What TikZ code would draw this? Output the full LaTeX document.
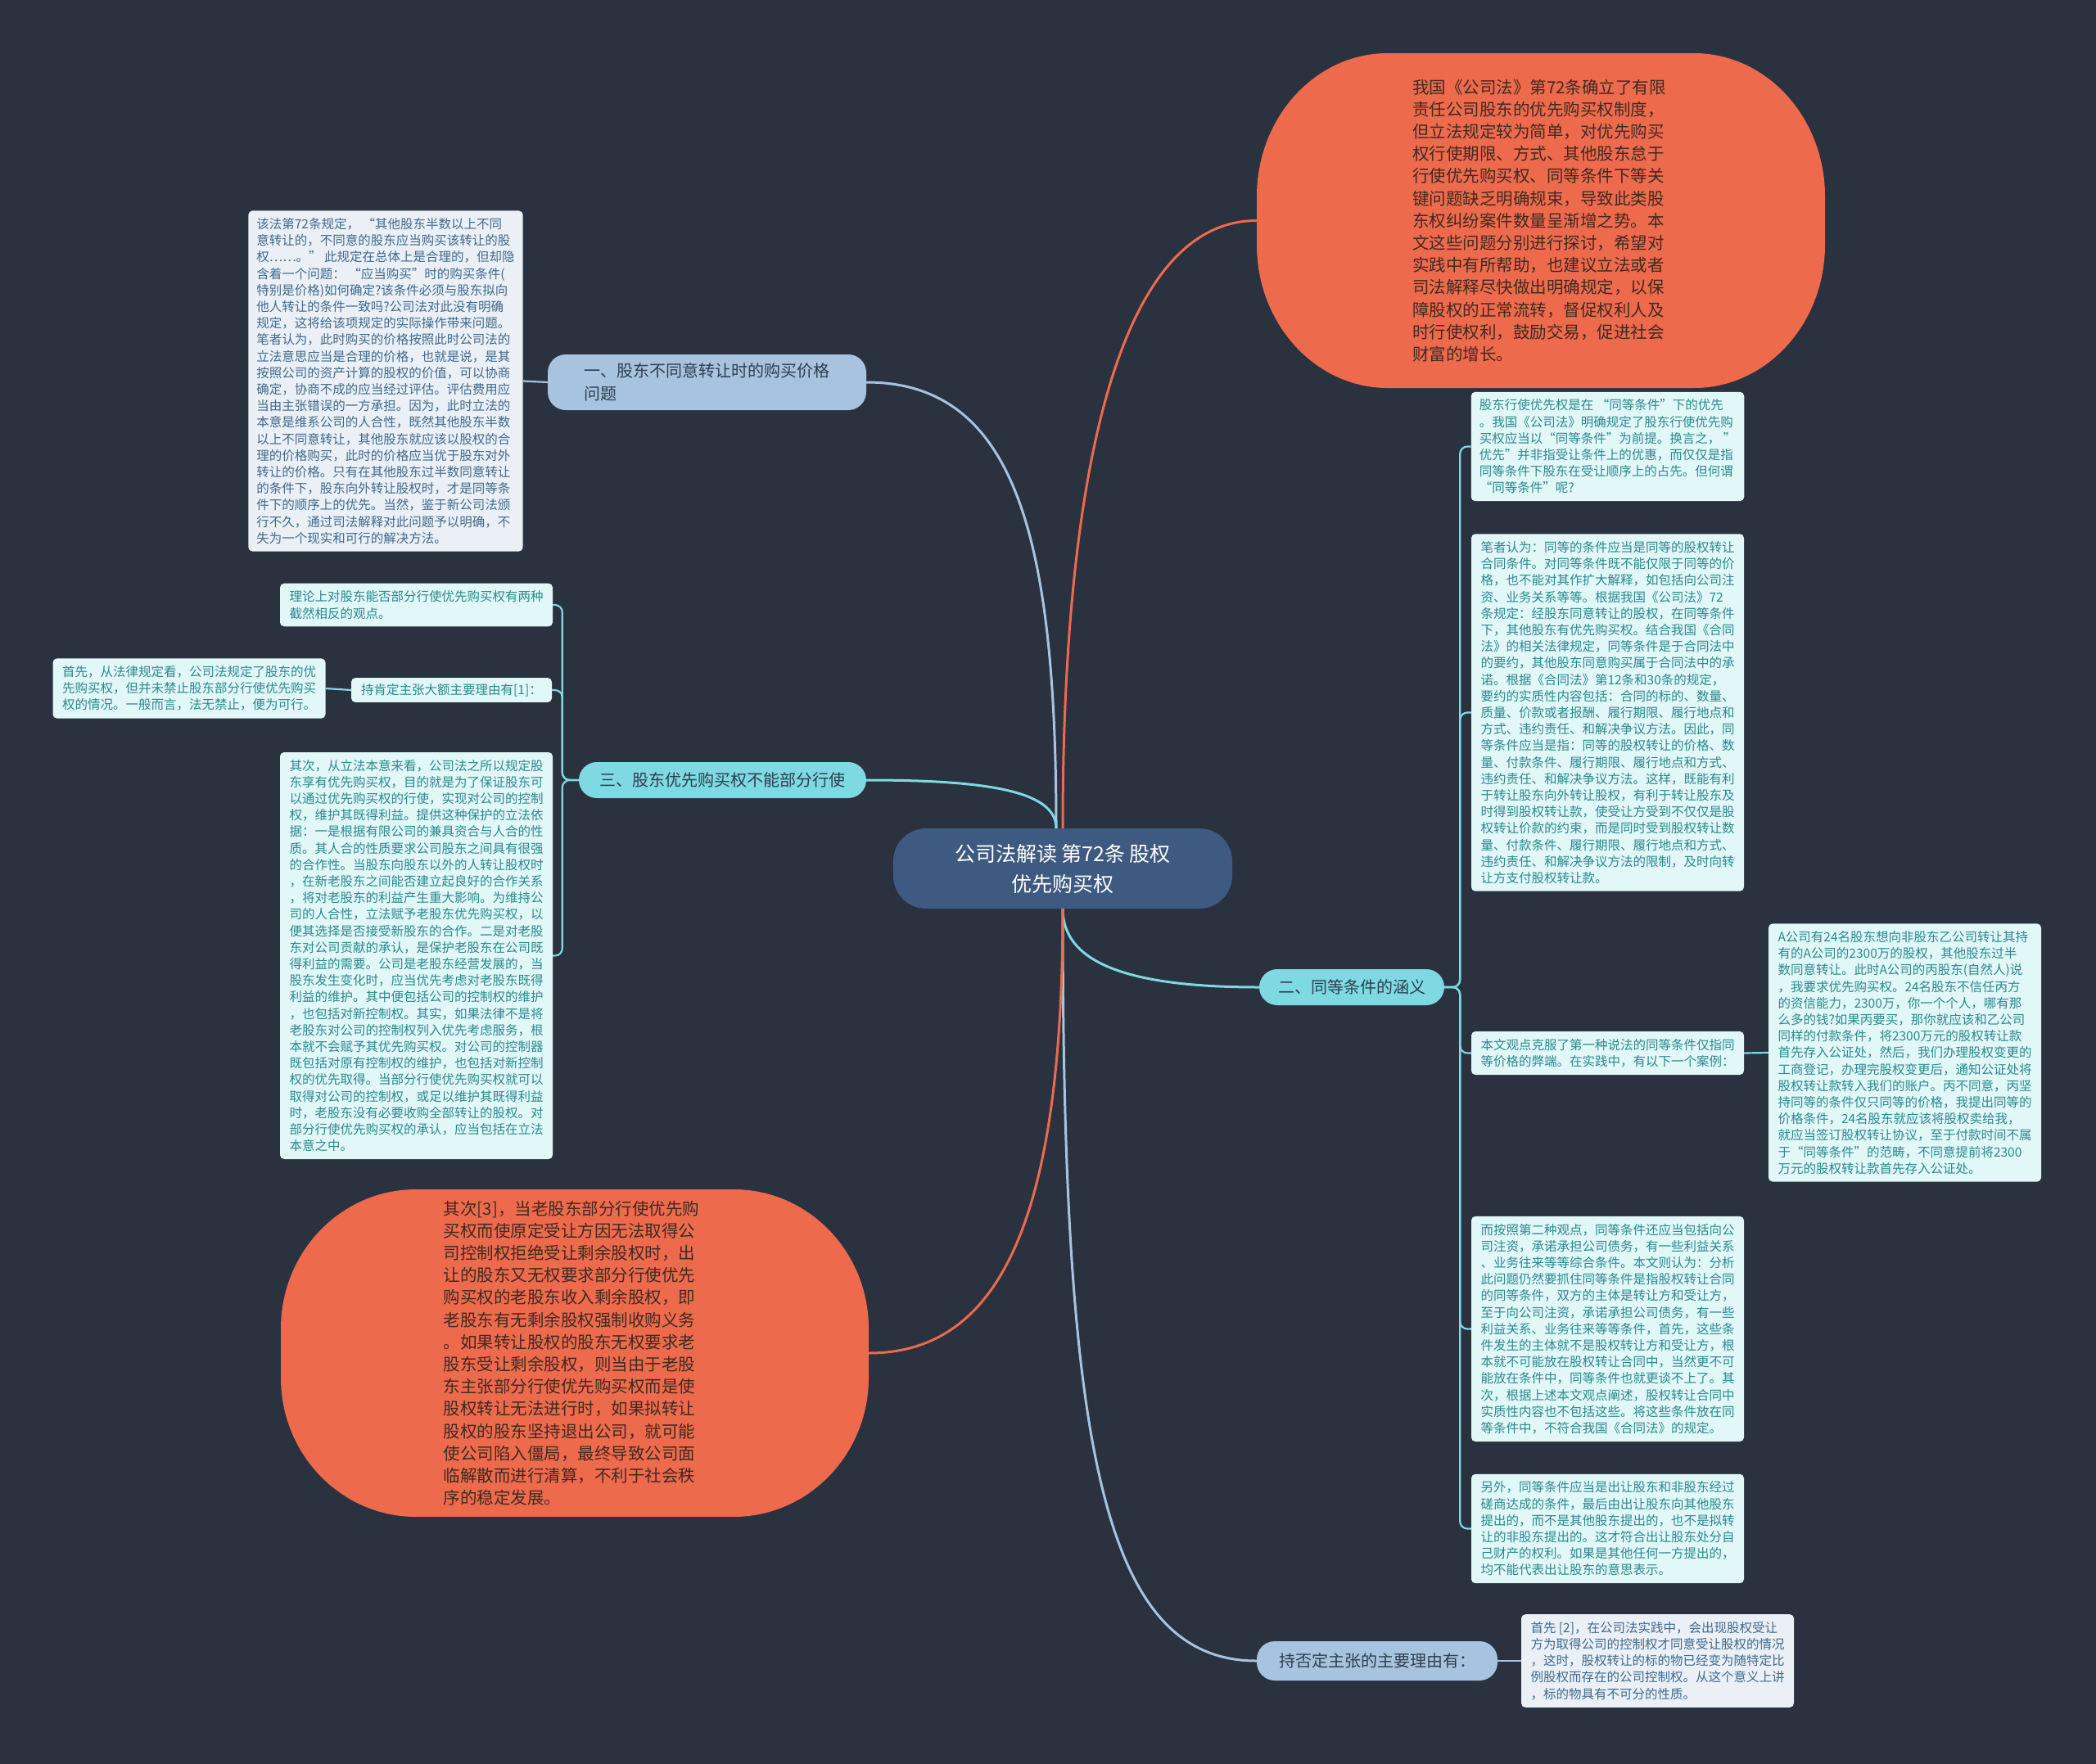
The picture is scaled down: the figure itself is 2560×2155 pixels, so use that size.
\documentclass[tikz,border=0pt]{standalone}
\usepackage{fontspec}
\setmainfont{Noto Sans CJK SC}
\definecolor{bg}{HTML}{2A313F}
\definecolor{orangec}{HTML}{EE6A4C}
\definecolor{orangetxt}{HTML}{3E2A22}
\definecolor{centerc}{HTML}{3E5A80}
\definecolor{steelc}{HTML}{A7C3DF}
\definecolor{cyanc}{HTML}{7ED9E2}
\definecolor{leafcyan}{HTML}{E1F7F8}
\definecolor{leafgrey}{HTML}{EAF0F5}
\definecolor{tealtext}{HTML}{2B898D}
\definecolor{bluetext}{HTML}{41698C}
\definecolor{darktext}{HTML}{2E3E50}
% x1 y1 x2 y2 rx ry
\newcommand{\blobshape}[6]{%
  \fill[orangec] ({#1+#5},#2) -- ({#3-#5},#2)
    arc[start angle=-90,end angle=0,x radius=#5,y radius=#6]
    -- (#3,{#4-#6})
    arc[start angle=0,end angle=90,x radius=#5,y radius=#6]
    -- ({#1+#5},#4)
    arc[start angle=90,end angle=180,x radius=#5,y radius=#6]
    -- (#1,{#2+#6})
    arc[start angle=180,end angle=270,x radius=#5,y radius=#6] -- cycle;}
\begin{document}
\begin{tikzpicture}[x=1pt,y=-1pt,
  leafc/.style={fill=leafcyan,text=tealtext,rounded corners=5pt,align=left,
    font=\fontsize{15.5}{20.2}\selectfont,inner xsep=10pt,inner ysep=9pt,minimum width=333pt},
  leafg/.style={leafc,fill=leafgrey,text=bluetext},
  brnode/.style={rounded corners=22pt,font=\fontsize{20}{28}\selectfont,align=left,
    inner xsep=8pt,inner ysep=4pt,text=darktext},
  otext/.style={text=orangetxt,align=left,font=\fontsize{20.5}{27.2}\selectfont},
  lineo/.style={draw=orangec,line width=3pt},
  lineb/.style={draw=steelc,line width=3pt},
  linec/.style={draw=cyanc,line width=3pt},
  subc/.style={draw=cyanc,line width=2.2pt,rounded corners=9pt},
  subb/.style={draw=steelc,line width=2.2pt}]
\useasboundingbox[fill=bg] (0,0) rectangle (2560,2155);

% orange blobs
\blobshape{1535}{65}{2229}{474}{160}{175}
\blobshape{343}{1453}{1061}{1853}{165}{170}
\coordinate (o1w) at (1535,269.5);
\coordinate (o2e) at (1061,1653);

\node[otext] (o1) at (1880,269.5) {我国《公司法》第72条确立了有限\\
责任公司股东的优先购买权制度，\\
但立法规定较为简单，对优先购买\\
权行使期限、方式、其他股东怠于\\
行使优先购买权、同等条件下等关\\
键问题缺乏明确规束，导致此类股\\
东权纠纷案件数量呈渐增之势。本\\
文这些问题分别进行探讨，希望对\\
实践中有所帮助，也建议立法或者\\
司法解释尽快做出明确规定，以保\\
障股权的正常流转，督促权利人及\\
时行使权利，鼓励交易，促进社会\\
财富的增长。};

\node[otext] (o2) at (698,1653) {其次[3]，当老股东部分行使优先购\\
买权而使原定受让方因无法取得公\\
司控制权拒绝受让剩余股权时，出\\
让的股东又无权要求部分行使优先\\
购买权的老股东收入剩余股权，即\\
老股东有无剩余股权强制收购义务\\
。如果转让股权的股东无权要求老\\
股东受让剩余股权，则当由于老股\\
东主张部分行使优先购买权而是使\\
股权转让无法进行时，如果拟转让\\
股权的股东坚持退出公司，就可能\\
使公司陷入僵局，最终导致公司面\\
临解散而进行清算，不利于社会秩\\
序的稳定发展。};

% center
\node[fill=centerc,text=white,rounded corners=40pt,minimum width=414pt,minimum height=98pt,
  align=center,font=\fontsize{25}{37}\selectfont] (c) at (1298,1061)
  {公司法解读 第72条 股权\\优先购买权};

% branch nodes
\node[brnode,fill=steelc,minimum width=389pt,minimum height=68pt] (one) at (863.5,467)
  {一、股东不同意转让时的购买价格\\问题};
\node[brnode,fill=cyanc,minimum width=351pt,minimum height=44pt,align=center] (three) at (882.5,953)
  {三、股东优先购买权不能部分行使};
\node[brnode,fill=cyanc,minimum width=226pt,minimum height=44pt,align=center] (two) at (1651,1206)
  {二、同等条件的涵义};
\node[brnode,fill=steelc,minimum width=294pt,minimum height=48pt,align=center] (neg) at (1682,2029)
  {持否定主张的主要理由有：};

% leaf of one
\node[leafg] (l1) at (471,465.5) {该法第72条规定，~“其他股东半数以上不同\\
意转让的，不同意的股东应当购买该转让的股\\
权……。”~此规定在总体上是合理的，但却隐\\
含着一个问题：~“应当购买”时的购买条件(\\
特别是价格)如何确定?该条件必须与股东拟向\\
他人转让的条件一致吗?公司法对此没有明确\\
规定，这将给该项规定的实际操作带来问题。\\
笔者认为，此时购买的价格按照此时公司法的\\
立法意思应当是合理的价格，也就是说，是其\\
按照公司的资产计算的股权的价值，可以协商\\
确定，协商不成的应当经过评估。评估费用应\\
当由主张错误的一方承担。因为，此时立法的\\
本意是维系公司的人合性，既然其他股东半数\\
以上不同意转让，其他股东就应该以股权的合\\
理的价格购买，此时的价格应当优于股东对外\\
转让的价格。只有在其他股东过半数同意转让\\
的条件下，股东向外转让股权时，才是同等条\\
件下的顺序上的优先。当然，鉴于新公司法颁\\
行不久，通过司法解释对此问题予以明确，不\\
失为一个现实和可行的解决方法。};

% children of three
\node[leafc] (t1) at (508.5,739) {理论上对股东能否部分行使优先购买权有两种\\
截然相反的观点。};
\node[leafc,minimum width=245pt,inner ysep=7pt] (t2) at (551.5,843) {持肯定主张大额主要理由有[1]：};
\node[leafc] (t2a) at (231,841) {首先，从法律规定看，公司法规定了股东的优\\
先购买权，但并未禁止股东部分行使优先购买\\
权的情况。一般而言，法无禁止，便为可行。};
\node[leafc] (t3) at (508.5,1167.5) {其次，从立法本意来看，公司法之所以规定股\\
东享有优先购买权，目的就是为了保证股东可\\
以通过优先购买权的行使，实现对公司的控制\\
权，维护其既得利益。提供这种保护的立法依\\
据：一是根据有限公司的兼具资合与人合的性\\
质。其人合的性质要求公司股东之间具有很强\\
的合作性。当股东向股东以外的人转让股权时\\
，在新老股东之间能否建立起良好的合作关系\\
，将对老股东的利益产生重大影响。为维持公\\
司的人合性，立法赋予老股东优先购买权，以\\
便其选择是否接受新股东的合作。二是对老股\\
东对公司贡献的承认，是保护老股东在公司既\\
得利益的需要。公司是老股东经营发展的，当\\
股东发生变化时，应当优先考虑对老股东既得\\
利益的维护。其中便包括公司的控制权的维护\\
，也包括对新控制权。其实，如果法律不是将\\
老股东对公司的控制权列入优先考虑服务，根\\
本就不会赋予其优先购买权。对公司的控制器\\
既包括对原有控制权的维护，也包括对新控制\\
权的优先取得。当部分行使优先购买权就可以\\
取得对公司的控制权，或足以维护其既得利益\\
时，老股东没有必要收购全部转让的股权。对\\
部分行使优先购买权的承认，应当包括在立法\\
本意之中。};

% children of two
\node[leafc] (A) at (1963.5,545.5) {股东行使优先权是在~“同等条件”下的优先\\
。我国《公司法》明确规定了股东行使优先购\\
买权应当以“同等条件”为前提。换言之，~”\\
优先”并非指受让条件上的优惠，而仅仅是指\\
同等条件下股东在受让顺序上的占先。但何谓\\
“同等条件”呢?};
\node[leafc] (B) at (1963.5,870.5) {笔者认为：同等的条件应当是同等的股权转让\\
合同条件。对同等条件既不能仅限于同等的价\\
格，也不能对其作扩大解释，如包括向公司注\\
资、业务关系等等。根据我国《公司法》72\\
条规定：经股东同意转让的股权，在同等条件\\
下，其他股东有优先购买权。结合我国《合同\\
法》的相关法律规定，同等条件是于合同法中\\
的要约，其他股东同意购买属于合同法中的承\\
诺。根据《合同法》第12条和30条的规定，\\
要约的实质性内容包括：合同的标的、数量、\\
质量、价款或者报酬、履行期限、履行地点和\\
方式、违约责任、和解决争议方法。因此，同\\
等条件应当是指：同等的股权转让的价格、数\\
量、付款条件、履行期限、履行地点和方式、\\
违约责任、和解决争议方法。这样，既能有利\\
于转让股东向外转让股权，有利于转让股东及\\
时得到股权转让款，使受让方受到不仅仅是股\\
权转让价款的约束，而是同时受到股权转让数\\
量、付款条件、履行期限、履行地点和方式、\\
违约责任、和解决争议方法的限制，及时向转\\
让方支付股权转让款。};
\node[leafc] (C) at (1963.5,1286.5) {本文观点克服了第一种说法的同等条件仅指同\\
等价格的弊端。在实践中，有以下一个案例：};
\node[leafc] (D) at (2326.5,1286) {A公司有24名股东想向非股东乙公司转让其持\\
有的A公司的2300万的股权，其他股东过半\\
数同意转让。此时A公司的丙股东(自然人)说\\
，我要求优先购买权。24名股东不信任丙方\\
的资信能力，2300万，你一个个人，哪有那\\
么多的钱?如果丙要买，那你就应该和乙公司\\
同样的付款条件，将2300万元的股权转让款\\
首先存入公证处，然后，我们办理股权变更的\\
工商登记，办理完股权变更后，通知公证处将\\
股权转让款转入我们的账户。丙不同意，丙坚\\
持同等的条件仅只同等的价格，我提出同等的\\
价格条件，24名股东就应该将股权卖给我，\\
就应当签订股权转让协议，至于付款时间不属\\
于“同等条件”的范畴，不同意提前将2300\\
万元的股权转让款首先存入公证处。};
\node[leafc] (E) at (1963.5,1623.5) {而按照第二种观点，同等条件还应当包括向公\\
司注资，承诺承担公司债务，有一些利益关系\\
、业务往来等等综合条件。本文则认为：分析\\
此问题仍然要抓住同等条件是指股权转让合同\\
的同等条件，双方的主体是转让方和受让方，\\
至于向公司注资，承诺承担公司债务，有一些\\
利益关系、业务往来等等条件，首先，这些条\\
件发生的主体就不是股权转让方和受让方，根\\
本就不可能放在股权转让合同中，当然更不可\\
能放在条件中，同等条件也就更谈不上了。其\\
次，根据上述本文观点阐述，股权转让合同中\\
实质性内容也不包括这些。将这些条件放在同\\
等条件中，不符合我国《合同法》的规定。};
\node[leafc] (F) at (1963.5,1867.5) {另外，同等条件应当是出让股东和非股东经过\\
磋商达成的条件，最后由出让股东向其他股东\\
提出的，而不是其他股东提出的，也不是拟转\\
让的非股东提出的。这才符合出让股东处分自\\
己财产的权利。如果是其他任何一方提出的，\\
均不能代表出让股东的意思表示。};

% child of neg
\node[leafg] (nc) at (2024.5,2029) {首先~[2]，在公司法实践中，会出现股权受让\\
方为取得公司的控制权才同意受让股权的情况\\
，这时，股权转让的标的物已经变为随特定比\\
例股权而存在的公司控制权。从这个意义上讲\\
，标的物具有不可分的性质。};

% main connectors
\draw[lineo] (c.north) .. controls +(0,-430) and +(-170,0) .. (o1w);
\draw[lineb] ([xshift=-8pt]c.north) .. controls +(0,-360) and +(180,0) .. (one.east);
\draw[linec] ([xshift=-8pt]c.north) .. controls +(0,-45) and +(150,0) .. (three.east);
\draw[linec] (c.south) .. controls +(0,70) and +(-150,0) .. (two.west);
\draw[lineb] (c.south) .. controls +(0,650) and +(-190,0) .. (neg.west);
\draw[lineo] (c.south) .. controls +(0,380) and +(160,0) .. (o2e);

% sub connectors
\draw[subb] (one.west) -- (l1.east);
\draw[subb] (neg.east) -- (nc.west);
\foreach \k in {t1,t2,t3} \draw[subc] (three.west) -- ++(-20,0) |- (\k.east);
\draw[subc] (t2.west) -- (t2a.east);
\foreach \k in {A,B,C,E,F} \draw[subc] (two.east) -- ++(19,0) |- (\k.west);
\draw[subc] (C.east) -- (D.west);
\end{tikzpicture}
\end{document}
